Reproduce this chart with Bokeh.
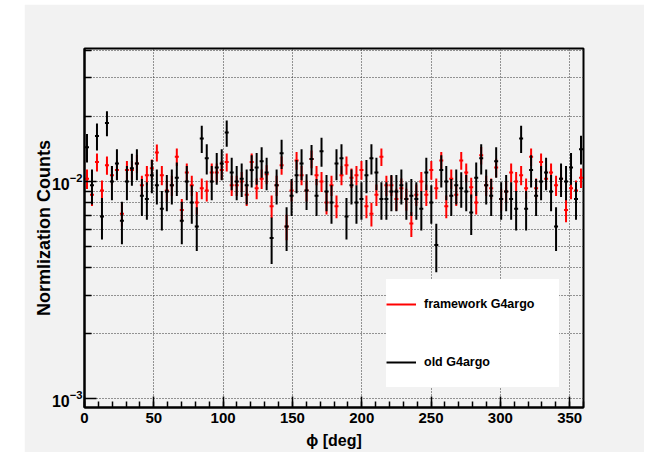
import numpy as np
from bokeh.plotting import figure
from bokeh.models import (ColumnDataSource, FixedTicker, SingleIntervalTicker,
                          Legend, LegendItem, LogTickFormatter)
from bokeh.embed import file_html
from bokeh.resources import INLINE

# ---------------- data (normalized counts, 100 bins over 0..360 deg) ----------------
PHI_MIN, PHI_MAX, N_BINS = 0.0, 360.0, 100

FRAMEWORK_G4ARGO = [1.03, 0.87, 1.23, 0.91, 1.19, 1.07, 1.13, 0.71, 1.13, 1.13,
                    1.21, 0.96, 1.07, 1.15, 1.36, 1.07, 0.91, 0.96, 1.30, 0.74,
                    1.10, 0.96, 0.80, 0.93, 0.91, 1.10, 1.10, 1.13, 1.23, 0.96,
                    0.96, 1.00, 0.87, 1.23, 0.93, 1.03, 1.08, 0.77, 0.96, 1.19,
                    0.62, 0.91, 1.25, 1.07, 0.91, 1.27, 1.07, 1.00, 0.80, 0.96,
                    0.77, 1.07, 1.19, 1.04, 1.07, 1.13, 0.77, 0.71, 0.87, 1.30,
                    0.96, 0.96, 0.83, 0.93, 0.83, 0.64, 0.87, 1.00, 0.87, 1.13,
                    0.93, 1.25, 0.77, 1.03, 0.87, 1.25, 1.10, 0.94, 0.80, 1.32,
                    0.96, 0.93, 1.16, 0.83, 0.90, 1.10, 1.00, 1.07, 0.93, 1.30,
                    0.93, 1.23, 1.03, 1.10, 0.96, 1.03, 0.74, 0.93, 0.91, 1.04]  # x 1e-2

OLD_G4ARGO = [1.44, 0.96, 1.62, 0.69, 1.86, 1.00, 1.21, 0.66, 1.00, 1.15,
              1.21, 0.86, 0.83, 1.07, 0.96, 0.75, 0.90, 0.96, 1.04, 0.66,
              1.00, 0.80, 0.62, 1.58, 1.28, 1.00, 1.16, 1.21, 1.68, 1.10,
              1.00, 1.03, 0.96, 1.13, 1.16, 1.24, 1.10, 0.55, 0.96, 1.35,
              0.62, 0.86, 1.07, 1.21, 0.91, 1.27, 0.86, 1.38, 0.90, 0.80,
              1.21, 1.28, 0.69, 0.96, 0.80, 0.83, 1.07, 1.28, 1.10, 0.83,
              0.83, 0.90, 0.90, 0.96, 0.83, 0.86, 0.83, 0.75, 1.10, 0.80,
              0.51, 1.13, 1.00, 0.86, 0.96, 0.93, 0.90, 0.72, 1.04, 1.28,
              0.96, 0.86, 1.24, 0.83, 0.90, 0.83, 0.75, 1.58, 0.75, 1.13,
              0.86, 1.00, 1.10, 0.90, 0.62, 1.03, 1.00, 1.16, 0.83, 1.41]  # x 1e-2

# total entries used for the normalization (Poisson errors: sqrt(N_bin)/N_total)
N_TOTAL_FRAMEWORK = 9000
N_TOTAL_OLD = 3100

SERIES_LABELS = ["framework G4argo", "old G4argo"]
SERIES_COLORS = ["#ff0000", "#000000"]

Y_MAJOR = [0.001, 0.01]
Y_MINOR = [0.002, 0.003, 0.004, 0.005, 0.006, 0.007, 0.008, 0.009, 0.02, 0.03, 0.04]
Y_RANGE = (0.00091, 0.041)

# ---------------- figure ----------------
BG = "#f2f2f2"
p = figure(width=620, height=448, x_range=(PHI_MIN, PHI_MAX), y_range=Y_RANGE,
           y_axis_type="log", output_backend="svg", toolbar_location=None,
           min_border_left=60, min_border_right=61, min_border_top=44, min_border_bottom=45,
           background_fill_color=BG, border_fill_color=BG,
           outline_line_color="black", outline_line_width=2)
p.margin = (4, 0, 0, 24)

edges = np.linspace(PHI_MIN, PHI_MAX, N_BINS + 1)
centers = 0.5 * (edges[:-1] + edges[1:])
half = 0.5 * (edges[1] - edges[0]) * 0.8

items = []
for vals, ntot, color, label in [(FRAMEWORK_G4ARGO, N_TOTAL_FRAMEWORK, SERIES_COLORS[0], SERIES_LABELS[0]),
                                  (OLD_G4ARGO, N_TOTAL_OLD, SERIES_COLORS[1], SERIES_LABELS[1])]:
    v = np.array(vals) * 1e-2
    err = np.sqrt(v / ntot)
    src = ColumnDataSource(dict(x=centers, xl=centers - half, xr=centers + half,
                                y=v, lo=v - err, hi=v + err))
    r = p.segment(x0="x", y0="lo", x1="x", y1="hi", source=src, line_color=color, line_width=2)
    p.segment(x0="xl", y0="y", x1="xr", y1="y", source=src, line_color=color, line_width=2)
    items.append(LegendItem(label=label, renderers=[r]))

# ---------------- axes ----------------
FONT = "Liberation Sans"
p.xaxis.ticker = SingleIntervalTicker(interval=50, num_minor_ticks=5)
p.yaxis.ticker = FixedTicker(ticks=Y_MAJOR, minor_ticks=Y_MINOR)
p.yaxis.formatter = LogTickFormatter()

for ax in (p.xaxis[0], p.yaxis[0]):
    ax.axis_line_width = 2
    ax.axis_line_color = "black"
    ax.major_tick_out = 0
    ax.minor_tick_out = 0
    ax.major_tick_line_width = 1.5
    ax.minor_tick_line_width = 1.5
    ax.major_label_text_font = FONT
    ax.major_label_text_font_style = "bold"
    ax.major_label_text_font_size = "15px"
    ax.major_label_text_color = "black"
    ax.axis_label_text_font = FONT
    ax.axis_label_text_font_style = "bold"
    ax.axis_label_text_color = "black"

p.yaxis.major_label_text_font_size = "16px"
p.xaxis.major_tick_in = 11
p.xaxis.minor_tick_in = 6
p.yaxis.major_tick_in = 12
p.yaxis.minor_tick_in = 7
p.xaxis.major_label_standoff = 5
p.yaxis.major_label_standoff = 2
p.xaxis.axis_label = "ϕ [deg]"
p.xaxis.axis_label_text_font_size = "16px"
p.xaxis.axis_label_standoff = 6
p.yaxis.axis_label = "Normlization Counts"
p.yaxis.axis_label_text_font_size = "18px"
p.yaxis.axis_label_standoff = -5

# ---------------- grid ----------------
p.xgrid.grid_line_color = "#333333"
p.xgrid.grid_line_dash = "1 2"
p.xgrid.grid_line_width = 1
p.ygrid.grid_line_color = "#333333"
p.ygrid.grid_line_dash = "1 2"
p.ygrid.grid_line_width = 1
p.ygrid.minor_grid_line_color = "#333333"
p.ygrid.minor_grid_line_dash = "1 2"
p.ygrid.minor_grid_line_width = 1

# ---------------- legend ----------------
legend = Legend(items=items, location=(302, 20), padding=6, spacing=8,
                glyph_width=30, glyph_height=50, label_height=50, label_standoff=8,
                label_width=135,
                label_text_font=FONT, label_text_font_style="bold",
                label_text_font_size="12.5px", label_text_color="black",
                background_fill_color="white", background_fill_alpha=1.0,
                border_line_color=None)
p.add_layout(legend, "center")

open("out.html", "w").write(file_html(p, INLINE))
